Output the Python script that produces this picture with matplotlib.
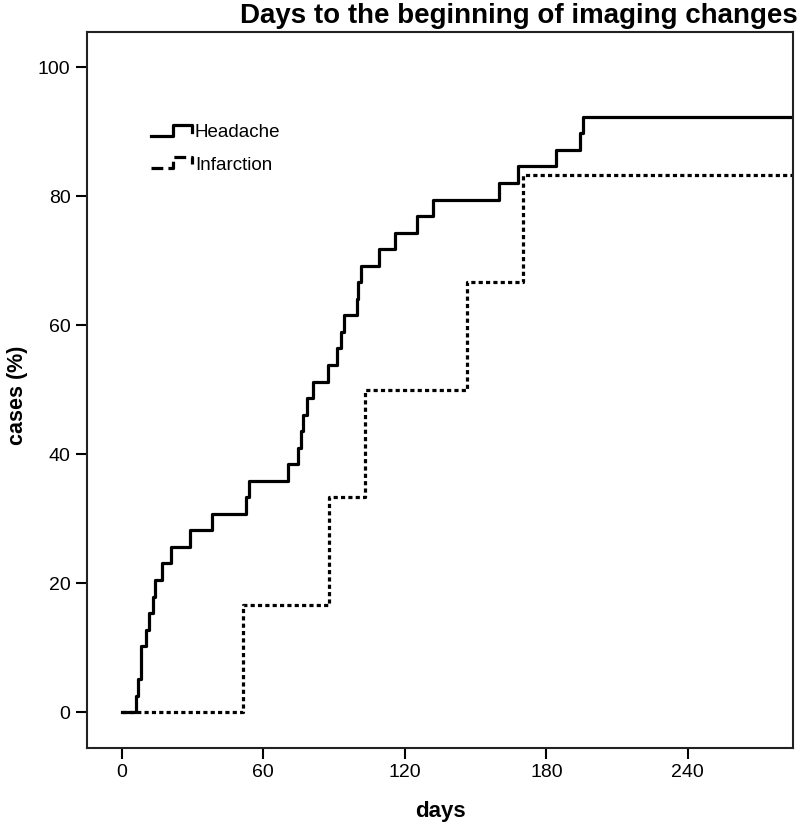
import matplotlib
matplotlib.use("Agg")
import matplotlib.pyplot as plt
from matplotlib.legend_handler import HandlerLine2D
from matplotlib.lines import Line2D

plt.rcParams['font.family'] = ['Liberation Sans', 'DejaVu Sans']

# --- Cumulative incidence (days, % cases) ---
headache_days = [0, 6.1, 6.7, 8.2, 10.3, 11.3, 13.1, 14.1, 17.1, 20.9, 29.1, 38.2,
                 52.8, 54.0, 70.5, 74.7, 76.1, 76.6, 78.5, 81.1, 87.4, 91.3, 93.1,
                 94.2, 99.8, 100.2, 101.2, 109.0, 116.0, 125.1, 131.9, 160.0, 168.0,
                 184.1, 194.4, 195.6, 285]
headache_pct = [0, 2.56, 5.13, 10.26, 12.82, 15.38, 17.95, 20.51, 23.08, 25.64, 28.21,
                30.77, 33.33, 35.90, 38.46, 41.03, 43.59, 46.15, 48.72, 51.28, 53.85,
                56.41, 58.97, 61.54, 64.10, 66.67, 69.23, 71.79, 74.36, 76.92, 79.49,
                82.05, 84.62, 87.18, 89.74, 92.31, 92.31]

infarction_days = [0, 51.3, 88.0, 103.3, 146.3, 170.0, 285]
infarction_pct = [0, 16.67, 33.33, 50.0, 66.67, 83.33, 83.33]

x_ticks = [0, 60, 120, 180, 240]
y_ticks = [0, 20, 40, 60, 80, 100]


class StepHandler(HandlerLine2D):
    # legend key drawn as a little step, like the KM plot legend
    def create_artists(self, legend, orig_handle, xdescent, ydescent,
                       width, height, fontsize, trans):
        lo = height * 0.15 - ydescent
        hi = height * 0.95 - ydescent
        xs = [-xdescent, -xdescent + width * 0.55, -xdescent + width * 0.55,
              -xdescent + width, -xdescent + width]
        ys = [lo, lo, hi, hi, hi - height * 0.5]
        line = Line2D(xs, ys, color=orig_handle.get_color(),
                      linestyle=orig_handle.get_linestyle(),
                      linewidth=orig_handle.get_linewidth())
        line.set_transform(trans)
        return [line]


fig = plt.figure(figsize=(8, 8.3), dpi=100)
ax = fig.add_axes([0.109, 0.099, 0.882, 0.862])

h1, = ax.step(headache_days, headache_pct, where='post', color='black',
              linewidth=2.3, label='Headache')
h2, = ax.step(infarction_days, infarction_pct, where='post', color='black',
              linewidth=2.3, linestyle=(0, (1.3, 1.0)), label='Infarction')

ax.set_xlim(-14.7, 284.5)
ax.set_ylim(-5.5, 105.4)
ax.set_xticks(x_ticks)
ax.set_yticks(y_ticks)
ax.tick_params(direction='out', length=8, width=1.5, labelsize=14, pad=4)

for sp in ax.spines.values():
    sp.set_linewidth(1.5)
    sp.set_color('#222222')

fig.text(0.55, 0.0217, 'days', ha='center', va='center', fontsize=16, fontweight='bold')
fig.text(0.0225, 0.524, 'cases (%)', ha='center', va='center', rotation=90,
         fontsize=15.5, fontweight='bold')

leg = ax.legend(handles=[h1, h2], loc='center left', bbox_to_anchor=(0.09, 0.837),
                frameon=False, fontsize=13.5, handlelength=2.2, handletextpad=0.15,
                labelspacing=0.8, borderpad=0, borderaxespad=0,
                handler_map={Line2D: StepHandler()})

fig.text(0.997, 0.996, 'Days to the beginning of imaging changes', ha='right', va='top',
         fontsize=20, fontweight='bold')

fig.savefig('out.png', dpi=100, facecolor='white')
